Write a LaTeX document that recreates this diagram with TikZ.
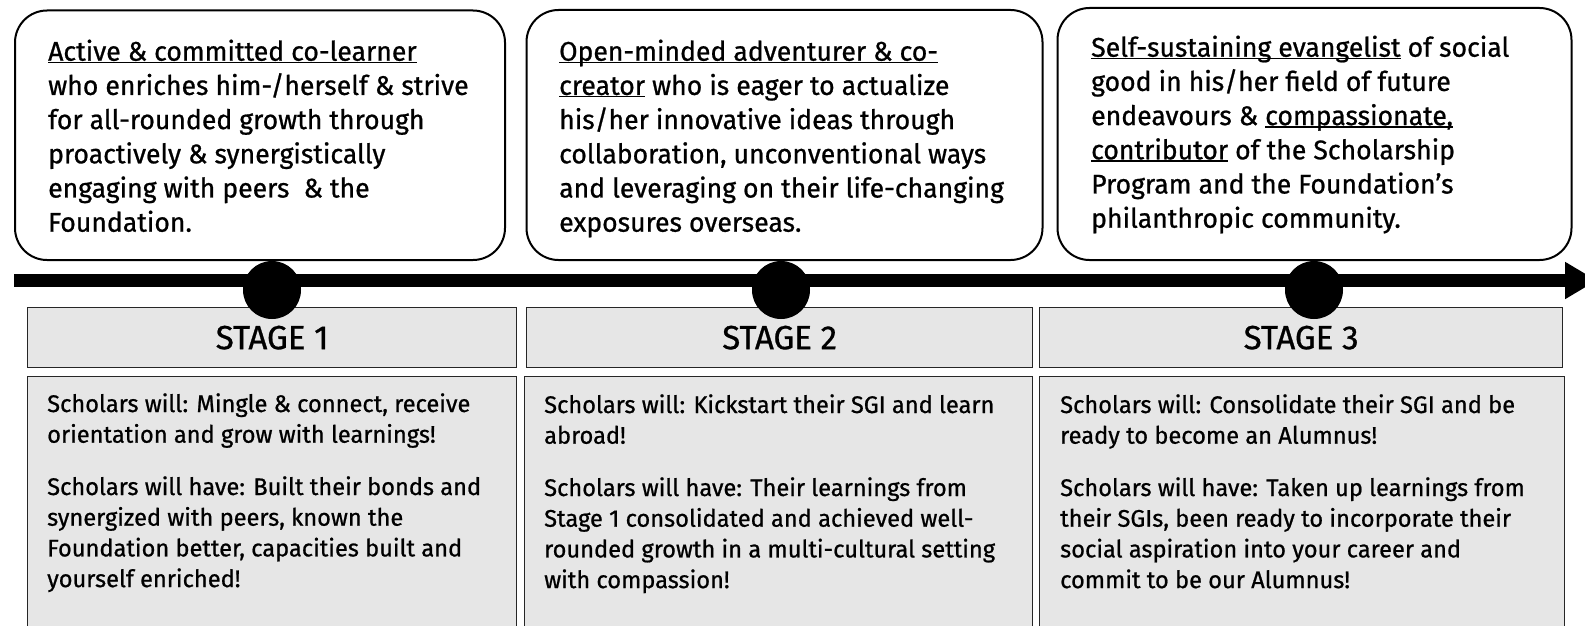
\documentclass[tikz,border=0pt]{standalone}
\usepackage{fontspec}
\setmainfont{Fira Sans}[FakeStretch=0.985, FakeBold=0.8]
\usetikzlibrary{arrows.meta}
\definecolor{boxgray}{HTML}{E6E6E6}
\newcommand\myul[1]{\leavevmode\setbox0\hbox{#1}\rlap{\rule[-2.5pt]{\wd0}{1.4pt}}\box0\relax}
\tikzset{
  topbox/.style={draw=black, line width=2pt, rounded corners=32pt, fill=white, anchor=north west, inner sep=0pt},
  headbox/.style={draw=black!85, line width=1.3pt, fill=boxgray, anchor=north west, inner sep=0pt},
  dot/.style={circle, fill=black, minimum size=58pt, inner sep=0pt},
  toptext/.style={anchor=base west, inner sep=0pt},
  headtext/.style={font=\fontsize{33.5}{36}\selectfont, inner sep=0pt},
}
\begin{document}
\begin{tikzpicture}[x=1pt, y=-1pt]
\useasboundingbox (0,0) rectangle (1585,626);
\clip (0,0) rectangle (1585,626);
% top boxes
\node[topbox, minimum width=490pt, minimum height=249.5pt] (b1) at (14,9.5) {};
\node[topbox, minimum width=516pt, minimum height=250pt] (b2) at (525.5,9) {};
\node[topbox, minimum width=514pt, minimum height=252pt] (b3) at (1056.5,7) {};
\node[toptext] (t1) at (48,60.7) {\parbox[t]{450pt}{\fontsize{27}{34.2}\selectfont\raggedright
\myul{Active \& committed co-learner}\\
who enriches him-/herself \& strive\\
for all-rounded growth through\\
proactively \& synergistically\\
engaging with peers\ \ \& the\\
Foundation.}};
\node[toptext] (t2) at (559,60.7) {\parbox[t]{470pt}{\fontsize{27}{34.2}\selectfont\raggedright
\myul{Open-minded adventurer \& co-}\\
\myul{creator} who is eager to actualize\\
his/her innovative ideas through\\
collaboration, unconventional ways\\
and leveraging on their life-changing\\
exposures overseas.}};
\node[toptext] (t3) at (1091,56.7) {\parbox[t]{470pt}{\fontsize{27}{34.2}\selectfont\raggedright
\myul{Self-sustaining evangelist} of social\\
good in his/her field of future\\
endeavours \& \myul{compassionate,}\\
\myul{contributor} of the Scholarship\\
Program and the Foundation’s\\
philanthropic community.}};
% header boxes
\node[headbox, minimum width=489pt, minimum height=60pt] (h1) at (27,307) {};
\node[headbox, minimum width=506pt, minimum height=60pt] (h2) at (526,307) {};
\node[headbox, minimum width=523pt, minimum height=60pt] (h3) at (1039,307) {};
\node[headtext] (s1) at (h1.center) {STAGE 1};
\node[headtext] (s2) at (h2.center) {STAGE 2};
\node[headtext] (s3) at (h3.center) {STAGE 3};
% content boxes
\node[headbox, minimum width=489pt, minimum height=270pt] (c1) at (27,376) {};
\node[headbox, minimum width=508pt, minimum height=270pt] (c2) at (524,376) {};
\node[headbox, minimum width=525pt, minimum height=270pt] (c3) at (1039,376) {};
\node[toptext] (ct1) at (47,412) {\parbox[t]{465pt}{\fontsize{24}{30.7}\selectfont\raggedright
Scholars will: Mingle \& connect, receive\\
orientation and grow with learnings!\par\vspace{21.6pt}
Scholars will have: Built their bonds and\\
synergized with peers, known the\\
Foundation better, capacities built and\\
yourself enriched!}};
\node[toptext] (ct2) at (544,413) {\parbox[t]{480pt}{\fontsize{24}{30.7}\selectfont\raggedright
Scholars will: Kickstart their SGI and learn\\
abroad!\par\vspace{21.6pt}
Scholars will have: Their learnings from\\
Stage 1 consolidated and achieved well-\\
rounded growth in a multi-cultural setting\\
with compassion!}};
\node[toptext] (ct3) at (1060,413) {\parbox[t]{495pt}{\fontsize{24}{30.7}\selectfont\raggedright
Scholars will: Consolidate their SGI and be\\
ready to become an Alumnus!\par\vspace{21.6pt}
Scholars will have: Taken up learnings from\\
their SGIs, been ready to incorporate their\\
social aspiration into your career and\\
commit to be our Alumnus!}};
% timeline
\coordinate (tl) at (14,280.5);
\coordinate (tr) at (1597,280.5);
\draw[line width=13pt, -{Triangle[length=32pt,width=35pt]}] (tl) -- (tr);
\node[dot] (d1) at (272,290) {};
\node[dot] (d2) at (781,290) {};
\node[dot] (d3) at (1314,290) {};
\end{tikzpicture}
\end{document}
